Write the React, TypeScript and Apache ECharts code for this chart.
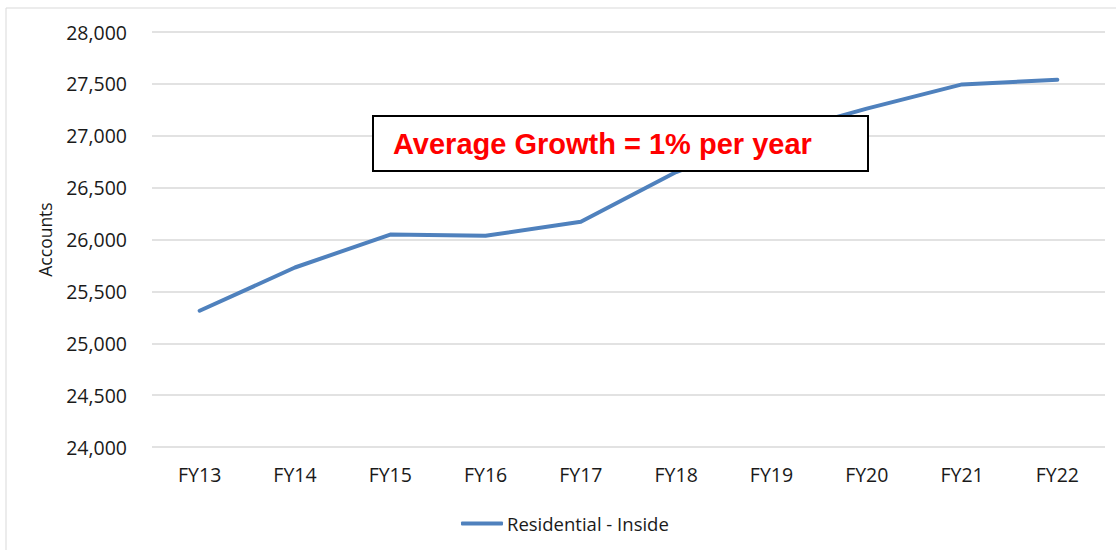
import React, { useEffect, useRef } from "react";
import * as echarts from "echarts";

const categories = ["FY13", "FY14", "FY15", "FY16", "FY17", "FY18", "FY19", "FY20", "FY21", "FY22"];
const residentialInside = [25313, 25730, 26048, 26036, 26171, 26650, 27005, 27262, 27495, 27540];
const seriesName = "Residential - Inside";
const yMin = 24000;
const yMax = 28000;
const yInterval = 500;
const annotation = "Average Growth = 1% per year";

export default function App() {
  const ref = useRef<HTMLDivElement>(null);
  useEffect(() => {
    if (!ref.current) return;
    const chart = echarts.init(ref.current, null, { renderer: "svg" });
    const font = "'Open Sans', 'Noto Sans', sans-serif";
    chart.setOption({
      animation: false,
      backgroundColor: "#ffffff",
      grid: { left: 152, right: 11, top: 32, bottom: 103 },
      legend: {
        data: [seriesName],
        left: 456,
        top: 509,
        icon: "roundRect",
        itemWidth: 42,
        itemHeight: 4,
        itemGap: 10,
        textStyle: { fontFamily: font, fontSize: 18.5, color: "#1a1a1a", padding: [0, 0, 0, -1] },
      },
      xAxis: {
        type: "category",
        data: categories,
        boundaryGap: true,
        axisLine: { show: false },
        axisTick: { show: false },
        axisLabel: { fontFamily: font, fontSize: 19.5, color: "#1a1a1a", margin: 17 },
      },
      yAxis: {
        type: "value",
        min: yMin,
        max: yMax,
        interval: yInterval,
        name: "Accounts",
        nameLocation: "middle",
        nameGap: 98,
        nameRotate: 90,
        nameTextStyle: { fontFamily: font, fontSize: 17.5, color: "#1a1a1a" },
        axisLine: { show: false },
        axisTick: { show: false },
        splitLine: { lineStyle: { color: "#d9d9d9", width: 1.5 } },
        axisLabel: {
          fontFamily: font,
          fontSize: 19.5,
          color: "#1a1a1a",
          margin: 25,
          formatter: (v: number) => v.toLocaleString("en-US"),
        },
      },
      series: [
        {
          name: seriesName,
          type: "line",
          z: 2,
          data: residentialInside,
          symbol: "none",
          lineStyle: { color: "#4f81bd", width: 4, cap: "round", join: "round" },
          itemStyle: { color: "#4f81bd" },
        },
      ],
      graphic: [
        {
          type: "rect",
          z: -1,
          silent: true,
          shape: { x: 6, y: 8, width: 1200, height: 600 },
          style: { fill: "none", stroke: "#d9d9d9", lineWidth: 1 },
        },
        {
          type: "rect",
          z: 100,
          shape: { x: 373, y: 116, width: 495, height: 55 },
          style: { fill: "#ffffff", stroke: "#000000", lineWidth: 2 },
        },
        {
          type: "text",
          z: 101,
          x: 393,
          y: 144,
          style: {
            text: annotation,
            fill: "#ff0000",
            font: "bold 29px 'Liberation Sans', Arial, sans-serif",
            verticalAlign: "middle",
            align: "left",
          },
        },
      ],
    });
    return () => chart.dispose();
  }, []);
  return (
    <div
      ref={ref}
      style={{ position: "fixed", left: 0, top: 0, width: 1116, height: 550, background: "#fff" }}
    />
  );
}
